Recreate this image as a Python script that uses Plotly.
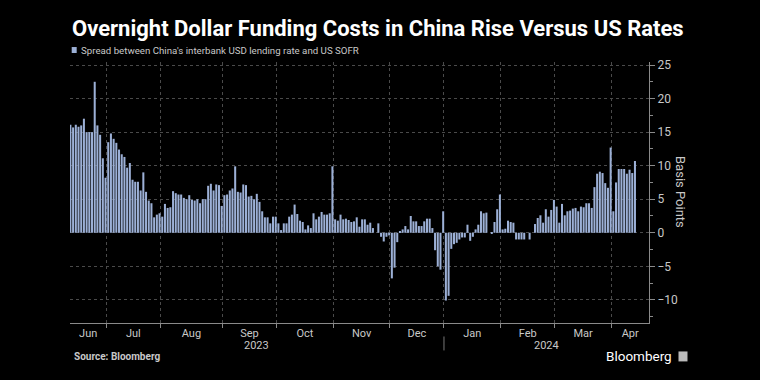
import pandas as pd
import plotly.graph_objects as go

# ---------------- data ----------------
holidays = ["2023-06-19", "2023-07-04", "2023-09-04", "2023-10-09", "2023-11-23",
            "2023-12-25", "2024-01-01", "2024-01-15", "2024-02-19"]
dates = pd.bdate_range("2023-06-12", "2024-04-11", freq="C", holidays=holidays)

jun = [16.1, 15.7, 16.1, 15.8, 16.0, 17.0, 15.0, 15.0, 15.0, 22.5, 16.0, 14.6, 11.1, 8.2]
jul = [13.5, 14.8, 14.0, 13.4, 12.4, 11.7, 11.3, 9.7, 10.4, 7.9, 7.6, 7.6, 6.3, 9.0, 6.1,
       4.8, 4.4, 2.3, 2.7, 2.9]
aug = [2.4, 4.3, 3.7, 3.8, 6.2, 5.9, 5.7, 5.7, 5.2, 5.0, 5.6, 4.9, 4.8, 5.0, 4.4, 5.0, 5.0,
       7.0, 7.3, 6.3, 7.2, 7.1, 4.0]
sep = [5.6, 5.7, 6.3, 6.6, 9.9, 6.1, 6.0, 7.2, 7.1, 5.4, 5.5, 5.0, 5.8, 4.6, 3.2, 2.3, 2.3,
       1.4, 2.4, 2.4]
oct_ = [1.4, 0.4, 1.4, 1.4, 2.4, 2.7, 4.2, 2.8, 1.8, 1.6, 0.5, 1.1, 0.7, 2.9, 2.0, 2.4, 3.1,
        2.7, 2.7, 2.9, 9.9]
nov = [2.0, 1.8, 2.7, 2.0, 2.1, 1.9, 1.6, 1.7, 2.3, 0.9, 2.0, 2.0, 1.2, 1.5, 0.7, 0.0, 1.4,
       -0.6, -1.3, -0.6, -0.4]
dec = [-6.8, -5.2, -1.4, 0.2, 0.5, 1.0, 0.5, 2.5, 1.7, 1.7, 1.0, 1.0, 1.7, 2.1, 2.1, 0.7,
       -2.6, -5.0, -5.5, 3.2]
jan = [-10.1, -9.4, -2.4, -1.7, -1.5, -1.0, -0.7, -0.7, 1.2, -1.2, -0.6, 0.5, 1.2, 3.2, 2.9,
       3.0, 0.0, -0.1, 1.6, 3.5, 5.7]
feb = [0.5, 0.6, 1.8, 1.6, 1.5, -1.0, -1.0, -1.0, -1.0, 0.0, -1.0, 0.0, 1.3, 2.2, 2.6, 1.5,
       3.5, 2.4, 3.4, 4.9]
mar = [3.9, 1.5, 4.3, 2.6, 3.2, 3.3, 3.6, 3.7, 3.2, 3.9, 3.8, 4.4, 4.4, 3.7, 6.8, 8.8, 9.1,
       8.9, 7.4, 6.7, 12.7]
apr = [3.2, 7.5, 9.5, 9.5, 9.5, 8.8, 9.4, 8.9, 10.7]

values = jun + jul + aug + sep + oct_ + nov + dec + jan + feb + mar + apr
assert len(values) == len(dates), (len(values), len(dates))

y_ticks = [-10, -5, 0, 5, 10, 15, 20, 25]
title = "Overnight Dollar Funding Costs in China Rise Versus US Rates"
series_name = "Spread between China's interbank USD lending rate and US SOFR"

# ---------------- layout helpers ----------------
W, H = 760, 380
L, R, T, B = 70.3, 649.5, 62, 323.5
pw, ph = R - L, B - T


def px_x(px):
    return (px - L) / pw


def px_y(py):
    return (B - py) / ph


n = len(dates)
pos = list(range(n))  # trading-day positions along the axis
x_start, x_end = -0.15, n - 1 + 5.2
month_starts = [i for i in range(n) if i == 0 or dates[i].month != dates[i - 1].month]
bounds = [m - 0.7 for m in month_starts[1:]]
edges = [x_start] + bounds + [x_end]
label_pos = [(edges[k] + edges[k + 1]) / 2 for k in range(len(month_starts))]
label_txt = [dates[m].strftime("%b") for m in month_starts]

jan_b = [b for b, m in zip(bounds, month_starts[1:]) if dates[m].month == 1][0]

FONT = "Roboto, Liberation Sans, sans-serif"
BAR = "#9cb0d6"
GRID = "#4a4a4a"
AX = "#8a8a8a"
TXT = "#c8c8c8"

fig = go.Figure(go.Bar(
    x=pos, y=values, marker=dict(color=BAR, line=dict(width=0)),
    customdata=[d.strftime("%Y-%m-%d") for d in dates],
    hovertemplate="%{customdata}: %{y}<extra></extra>", showlegend=False,
))

fig.update_layout(
    width=W, height=H, paper_bgcolor="black", plot_bgcolor="black",
    margin=dict(l=L, r=W - R, t=T, b=H - B),
    bargap=0.25,
    font=dict(family=FONT, color=TXT, size=12),
    title=dict(text=f"<b>{title}</b>", x=72 / W, xanchor="left", xref="container",
               y=1 - 28 / H, yanchor="middle", yref="container",
               font=dict(size=22, color="white", family=FONT)),
    xaxis=dict(range=[x_start, x_end], tickmode="array", tickvals=label_pos,
               ticktext=label_txt, ticks="", showgrid=False, zeroline=False,
               showline=True, linecolor=AX, linewidth=1,
               tickfont=dict(size=11, color=TXT),
               minor=dict(tickmode="array", tickvals=bounds, ticks="outside", ticklen=4,
                          tickcolor=AX, showgrid=True, gridcolor=GRID,
                          griddash="dot", gridwidth=1)),
    yaxis=dict(side="right", range=[-13.45, 25.45], tickmode="array", tickvals=y_ticks,
               ticks="outside", ticklen=5, tickcolor=AX, showline=True,
               linecolor=AX, showgrid=True, gridcolor=GRID, griddash="dot",
               zeroline=False, tickfont=dict(size=12, color=TXT),
               minor=dict(dtick=2.5, tick0=0, ticks="outside", ticklen=3,
                          tickcolor=AX, showgrid=False)),
)

ann = [
    dict(text=series_name, x=px_x(79), y=px_y(50), xref="paper", yref="paper",
         xanchor="left", yanchor="middle", showarrow=False,
         font=dict(size=9.7, color=TXT)),
    dict(text="Basis Points", x=px_x(681), y=0.5, xref="paper", yref="paper",
         xanchor="center", yanchor="middle",
         textangle=90, showarrow=False, font=dict(size=13, color=TXT)),
    dict(text="2023", x=(x_start + jan_b) / 2, y=px_y(346), xref="x", yref="paper",
         xanchor="center", yanchor="middle",
         showarrow=False, font=dict(size=11, color=TXT)),
    dict(text="2024", x=(jan_b + x_end) / 2, y=px_y(346), xref="x", yref="paper",
         xanchor="center", yanchor="middle",
         showarrow=False, font=dict(size=11, color=TXT)),
    dict(text="<b>Source: Bloomberg</b>", x=px_x(72), y=px_y(357), xref="paper",
         yref="paper", xanchor="left", yanchor="middle", showarrow=False,
         font=dict(size=10, color=TXT)),
    dict(text="Bloomberg", x=px_x(675), y=px_y(357), xref="paper", yref="paper",
         xanchor="right", yanchor="middle", showarrow=False,
         font=dict(size=13.5, color="white")),
]
fig.update_layout(annotations=ann)

fig.add_shape(type="line", xref="x", yref="paper", x0=jan_b, x1=jan_b,
              y0=px_y(337), y1=px_y(351), line=dict(color="#777", width=1))
fig.add_shape(type="rect", xref="paper", yref="paper", x0=px_x(72), x1=px_x(77),
              y0=px_y(53), y1=px_y(47), fillcolor=BAR, line=dict(width=0))
fig.add_shape(type="rect", xref="paper", yref="paper", x0=px_x(679), x1=px_x(688),
              y0=px_y(362), y1=px_y(352), fillcolor="#bbbbbb", line=dict(width=0))

fig.write_html("out.html", config={"displayModeBar": False},
               post_script="document.body.style.margin='0';"
                           "document.body.style.background='black';")
